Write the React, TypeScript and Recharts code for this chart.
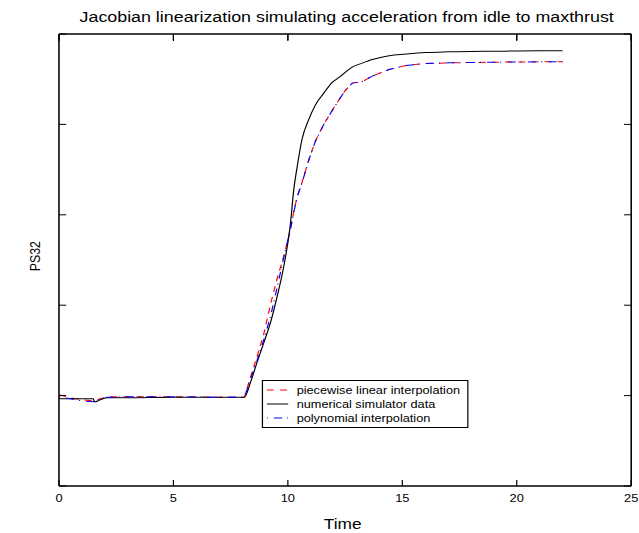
import React from 'react';
import { LineChart, Line, XAxis, YAxis, Legend, Label } from 'recharts';

const time = [0, 0.5, 1.0, 1.5, 1.55, 1.8, 2.1, 3, 5, 7, 8.1, 8.36, 8.65, 8.95, 9.24, 9.53, 9.82, 10.11, 10.26, 10.41, 10.62, 10.92, 11.2, 11.57, 11.94, 12.25, 12.52, 12.81, 13.25, 13.69, 14.42, 15.15, 16, 17, 18, 19, 20, 21, 22];
const piecewise = [1.009, 0.976, 0.953, 0.942, 0.942, 0.965, 0.987, 0.987, 0.987, 0.981, 0.981, 1.197, 1.43, 1.685, 2.007, 2.295, 2.539, 2.838, 3.038, 3.204, 3.359, 3.614, 3.814, 4.002, 4.157, 4.279, 4.379, 4.457, 4.473, 4.534, 4.607, 4.651, 4.673, 4.681, 4.685, 4.688, 4.691, 4.692, 4.693];
const simulator = [0.965, 0.965, 0.965, 0.965, 0.931, 0.953, 0.976, 0.976, 0.981, 0.981, 0.981, 1.142, 1.364, 1.585, 1.807, 2.095, 2.428, 2.894, 3.282, 3.537, 3.836, 4.058, 4.213, 4.346, 4.465, 4.523, 4.579, 4.634, 4.678, 4.717, 4.76, 4.778, 4.795, 4.803, 4.807, 4.809, 4.812, 4.814, 4.815];
const polynomial = [0.987, 0.965, 0.942, 0.931, 0.931, 0.959, 0.981, 0.987, 0.987, 0.981, 0.981, 1.175, 1.386, 1.619, 1.874, 2.195, 2.528, 2.838, 3.03, 3.2, 3.355, 3.61, 3.812, 4.0, 4.155, 4.279, 4.379, 4.457, 4.473, 4.534, 4.607, 4.651, 4.673, 4.681, 4.685, 4.688, 4.691, 4.692, 4.693];

const xTicks = [0, 5, 10, 15, 20, 25];
const yTicks = [0, 1, 2, 3, 4, 5];
const titleText = 'Jacobian linearization simulating acceleration from idle to maxthrust';
const xLabelText = 'Time';
const yLabelText = 'PS32';
const seriesNames = {
  piecewise: 'piecewise linear interpolation',
  simulator: 'numerical simulator data',
  polynomial: 'polynomial interpolation',
};

const data = time.map((t, i) => ({
  t,
  piecewise: piecewise[i],
  simulator: simulator[i],
  polynomial: polynomial[i],
}));

const W = 532;
const H = 533;
const SX = 639 / 532;
const FONT = '"Liberation Sans", Arial, Helvetica, sans-serif';
const MARGIN = { top: 34, right: 6.5, bottom: 17, left: 48.1 };
const TOP_AXIS_H = 1;
const PLOT_TOP = MARGIN.top + TOP_AXIS_H;
const TM = 8.1; // bottom tick label margin
const TM2 = 2; // left axis margin
const TL = 6; // inward tick length

const styles: Record<string, { color: string; dash?: string }> = {
  piecewise: { color: '#ff0000', dash: '6 5' },
  simulator: { color: '#000000' },
  polynomial: { color: '#0000ff', dash: '1 5 7 4' },
};
const order = ['piecewise', 'simulator', 'polynomial'];

const renderLegend = (props: any) => {
  const payload = [...(props.payload || [])].sort(
    (a: any, b: any) => order.indexOf(a.dataKey) - order.indexOf(b.dataKey)
  );
  return (
    <div
      style={{
        border: '1.7px solid #000',
        background: '#fff',
        padding: '1.5px 0 0 2.6px',
        boxSizing: 'border-box',
        width: 172,
        height: 48.3,
        fontFamily: FONT,
        fontSize: 10.6,
        color: '#000',
      }}
    >
      {payload.map((p: any) => {
        const st = styles[p.dataKey] || { color: p.color };
        return (
          <div key={p.dataKey} style={{ display: 'flex', alignItems: 'center', height: 14.3 }}>
            <svg width={18.3} height={6} style={{ display: 'block' }}>
              <line x1={0} y1={3} x2={18.3} y2={3} stroke={st.color} strokeWidth={1} strokeDasharray={st.dash} />
            </svg>
            <span style={{ marginLeft: 6.7, lineHeight: '14.3px', whiteSpace: 'nowrap' }}>{p.value}</span>
          </div>
        );
      })}
    </div>
  );
};

// bottom tick: inward tick on the bottom frame, matching inward tick on the top frame, and the label outside
const BottomTick = (props: any) => {
  const { x, y, payload } = props;
  const ay = y - TM;
  return (
    <g>
      <line x1={x} y1={ay} x2={x} y2={ay - TL} stroke="#000" strokeWidth={1} />
      <line x1={x} y1={PLOT_TOP} x2={x} y2={PLOT_TOP + TL} stroke="#000" strokeWidth={1} />
      <text x={x} y={y} dy="0.71em" textAnchor="middle" fontFamily={FONT} fontSize={10.7} fill="#000">
        {payload.value}
      </text>
    </g>
  );
};
const LeftTick = (props: any) => {
  const { x, y } = props;
  const ax = x + TM2;
  return <line x1={ax} y1={y} x2={ax + TL} y2={y} stroke="#000" strokeWidth={1} />;
};

const axisLineStyle = { stroke: '#000', strokeWidth: 1.3 };
const tickLineStyle = { stroke: '#000', strokeWidth: 1 };
const empty = () => '';

export default function App() {
  return (
    <div style={{ position: 'absolute', left: 0, top: 0, transform: `scaleX(${SX})`, transformOrigin: '0 0', background: '#fff' }}>
      <LineChart width={W} height={H} data={data} margin={MARGIN}>
        <XAxis
          xAxisId="b"
          dataKey="t"
          type="number"
          domain={[0, 25]}
          ticks={xTicks}
          interval={0}
          allowDataOverflow
          height={30}
          tickSize={0}
          tickLine={false}
          tickMargin={TM}
          axisLine={axisLineStyle}
          tick={<BottomTick />}
        >
          <Label
            content={(props: any) => {
              const vb = props.viewBox || {};
              return (
                <text x={vb.x + vb.width / 2 - 2} y={vb.y + 43} textAnchor="middle" fontFamily={FONT} fontSize={14.4} fill="#000">
                  {xLabelText}
                </text>
              );
            }}
          />
        </XAxis>
        <XAxis
          xAxisId="top"
          orientation="top"
          mirror
          dataKey="t"
          type="number"
          domain={[0, 25]}
          ticks={xTicks}
          interval={0}
          allowDataOverflow
          height={TOP_AXIS_H}
          tickSize={TL}
          tickFormatter={empty}
          axisLine={axisLineStyle}
          tickLine={tickLineStyle}
          tick={{ fill: 'none' }}
        >
          <Label
            content={(props: any) => {
              const vb = props.viewBox || {};
              return (
                <text x={vb.x + vb.width / 2 + 1.3} y={vb.y + vb.height - 13.3} textAnchor="middle" fontFamily={FONT} fontSize={14.85} fill="#000">
                  {titleText}
                </text>
              );
            }}
          />
        </XAxis>
        <YAxis
          yAxisId="l"
          type="number"
          domain={[0, 5]}
          ticks={yTicks}
          interval={0}
          allowDataOverflow
          width={1}
          tickSize={0}
          tickLine={false}
          tickMargin={TM2}
          axisLine={axisLineStyle}
          tick={<LeftTick />}
        >
          <Label
            content={(props: any) => {
              const vb = props.viewBox || {};
              const x = vb.x + vb.width - 15.8;
              const y = vb.y + vb.height / 2 - 3.8;
              return (
                <text x={x} y={y} transform={`rotate(-90, ${x}, ${y})`} textAnchor="middle" fontFamily={FONT} fontSize={12.3} fill="#000">
                  {yLabelText}
                </text>
              );
            }}
          />
        </YAxis>
        <YAxis
          yAxisId="r"
          orientation="right"
          mirror
          type="number"
          domain={[0, 5]}
          ticks={yTicks}
          interval={0}
          allowDataOverflow
          width={1}
          tickSize={TL}
          tickFormatter={empty}
          axisLine={axisLineStyle}
          tickLine={tickLineStyle}
          tick={{ fill: 'none' }}
        />
        <Legend
          layout="horizontal"
          verticalAlign="middle"
          align="center"
          wrapperStyle={{ left: 218.4, top: 380, width: 172, height: 48.3 }}
          content={renderLegend}
        />
        <Line
          xAxisId="b"
          yAxisId="l"
          type="linear"
          dataKey="piecewise"
          name={seriesNames.piecewise}
          stroke={styles.piecewise.color}
          strokeDasharray={styles.piecewise.dash}
          strokeWidth={1}
          dot={false}
          activeDot={false}
          isAnimationActive={false}
        />
        <Line
          xAxisId="b"
          yAxisId="l"
          type="monotone"
          dataKey="simulator"
          name={seriesNames.simulator}
          stroke={styles.simulator.color}
          strokeWidth={1}
          dot={false}
          activeDot={false}
          isAnimationActive={false}
        />
        <Line
          xAxisId="b"
          yAxisId="l"
          type="linear"
          dataKey="polynomial"
          name={seriesNames.polynomial}
          stroke={styles.polynomial.color}
          strokeDasharray={styles.polynomial.dash}
          strokeWidth={1}
          dot={false}
          activeDot={false}
          isAnimationActive={false}
        />
      </LineChart>
    </div>
  );
}
